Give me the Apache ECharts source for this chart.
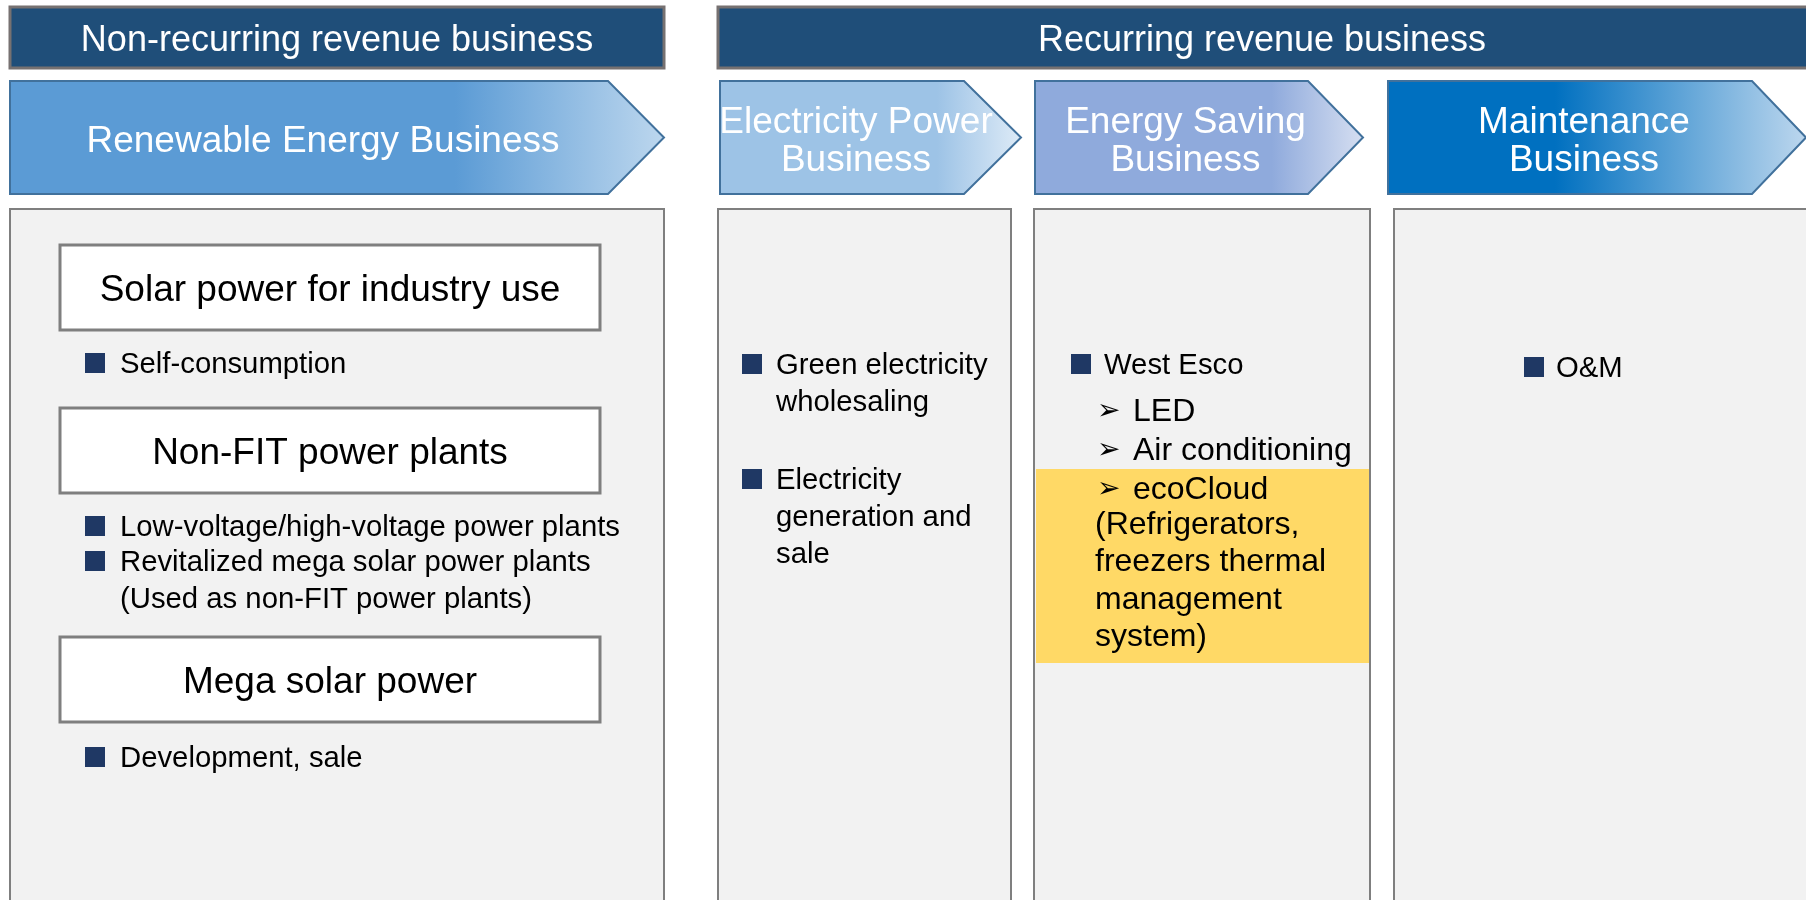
<!DOCTYPE html>
<html>
<head>
<meta charset="utf-8">
<script src="https://cdn.jsdelivr.net/npm/echarts@6/dist/echarts.min.js"></script>
<style>html,body{margin:0;padding:0;background:#fff;}#main{width:1806px;height:900px;}</style>
</head>
<body>
<div id="main"></div>
<script>
// ---- content (data) ----
const headers = ['Non-recurring revenue business', 'Recurring revenue business'];
const segments = ['Renewable Energy Business', 'Electricity Power\nBusiness', 'Energy Saving\nBusiness', 'Maintenance\nBusiness'];
const renewableTopics = ['Solar power for industry use', 'Non-FIT power plants', 'Mega solar power'];
const renewableBullets = [
  ['Self-consumption'],
  ['Low-voltage/high-voltage power plants', 'Revitalized mega solar power plants\n(Used as non-FIT power plants)'],
  ['Development, sale']
];
const electricityBullets = ['Green electricity\nwholesaling', 'Electricity\ngeneration and\nsale'];
const energySavingBullets = ['West Esco'];
const energySavingItems = ['LED', 'Air conditioning', 'ecoCloud'];
const ecoCloudNote = '(Refrigerators,\nfreezers thermal\nmanagement\nsystem)';
const maintenanceBullets = ['O&M'];

// ---- styling / layout ----
const FONT = '"Liberation Sans", Arial, sans-serif';
const DY = 3; // text baseline tweak
const headerFill = '#1F4E79', headerStroke = '#767171';
const chevronStyles = [
  {left: 10, bodyRight: 608, tip: 664, c1: '#5B9BD5', c2: '#BDD7EE', stop: 0.68},
  {left: 720, bodyRight: 964, tip: 1021, c1: '#9DC3E6', c2: '#DEEBF7', stop: 0.72},
  {left: 1035, bodyRight: 1308, tip: 1363, c1: '#8FAADC', c2: '#D6DFF1', stop: 0.72},
  {left: 1388, bodyRight: 1752, tip: 1806, c1: '#0070C0', c2: '#BDD7EE', stop: 0.4}
];
const chevTop = 81, chevBottom = 194;
const panels = [[10, 664], [718, 1011], [1034, 1370], [1394, 1812]];
const panelTop = 209;
const bulletColor = '#1F3864';

const chart = echarts.init(document.getElementById('main'), null, {renderer: 'canvas'});
const g = [];

// header bars
const headerBoxes = [[10, 664], [718, 1812]];
headers.forEach((h, i) => {
  const [x0, x1] = headerBoxes[i];
  g.push({type: 'rect', shape: {x: x0, y: 7, width: x1 - x0, height: 61},
    style: {fill: headerFill, stroke: headerStroke, lineWidth: 3}});
  g.push({type: 'text', x: i === 0 ? (x0 + x1) / 2 : 1262, y: 38 + DY,
    style: {text: h, fill: '#fff', font: '36px ' + FONT, align: 'center', verticalAlign: 'middle'}});
});

// chevrons
segments.forEach((s, i) => {
  const c = chevronStyles[i];
  const mid = (chevTop + chevBottom) / 2;
  g.push({type: 'polygon', shape: {points: [[c.left, chevTop], [c.bodyRight, chevTop], [c.tip, mid], [c.bodyRight, chevBottom], [c.left, chevBottom]]},
    style: {fill: new echarts.graphic.LinearGradient(0, 0, 1, 0, [
      {offset: 0, color: c.c1}, {offset: c.stop, color: c.c1}, {offset: 1, color: c.c2}]),
      stroke: '#41719C', lineWidth: 2}});
  g.push({type: 'text', x: (c.left + c.bodyRight) / 2 + 14, y: mid + 1 + DY,
    style: {text: s, fill: '#fff', font: '37px ' + FONT, lineHeight: 38, align: 'center', verticalAlign: 'middle'}});
});

// panels
panels.forEach(([x0, x1]) => {
  g.push({type: 'rect', shape: {x: x0, y: panelTop, width: x1 - x0, height: 900},
    style: {fill: '#F2F2F2', stroke: '#7F7F7F', lineWidth: 2}});
});

// yellow highlight in Energy Saving panel
g.push({type: 'rect', shape: {x: 1036, y: 469, width: 333, height: 194}, style: {fill: '#FFD966'}});

function bullet(sqX, txtX, cy, text, size, lh) {
  g.push({type: 'rect', shape: {x: sqX, y: cy - 10 + 1, width: 20, height: 20}, style: {fill: bulletColor}});
  g.push({type: 'text', x: txtX, y: cy - lh / 2 + DY,
    style: {text: text, fill: '#000', font: size + 'px ' + FONT, lineHeight: lh, align: 'left', verticalAlign: 'top'}});
}

// renewable panel: topic boxes + bullets
const topicBoxY = [245, 408, 637];
const bulletYs = [[362], [525, 560], [756]];
renewableTopics.forEach((t, i) => {
  g.push({type: 'rect', shape: {x: 60, y: topicBoxY[i], width: 540, height: 85},
    style: {fill: '#fff', stroke: '#7F7F7F', lineWidth: 3}});
  g.push({type: 'text', x: 330, y: topicBoxY[i] + 43 + DY,
    style: {text: t, fill: '#000', font: '37px ' + FONT, align: 'center', verticalAlign: 'middle'}});
  renewableBullets[i].forEach((b, j) => bullet(85, 120, bulletYs[i][j], b, 29.3, 37));
});

// electricity power panel
const elecY = [363, 478];
electricityBullets.forEach((b, i) => bullet(742, 776, elecY[i], b, 29.3, 37));

// energy saving panel
energySavingBullets.forEach(b => bullet(1071, 1104, 363, b, 29.3, 37));
const itemY = [409, 448, 487];
energySavingItems.forEach((it, i) => {
  g.push({type: 'text', x: 1097, y: itemY[i] + DY,
    style: {text: '\u27A2', fill: '#000', font: '28px "DejaVu Sans"', align: 'left', verticalAlign: 'middle'}});
  g.push({type: 'text', x: 1133, y: itemY[i] + DY,
    style: {text: it, fill: '#000', font: '32px ' + FONT, align: 'left', verticalAlign: 'middle'}});
});
g.push({type: 'text', x: 1095, y: 522 - 19 + DY,
  style: {text: ecoCloudNote, fill: '#000', font: '32px ' + FONT, lineHeight: 37.5, align: 'left', verticalAlign: 'top'}});

// maintenance panel
maintenanceBullets.forEach(b => bullet(1524, 1556, 366, b, 29.3, 37));

chart.setOption({animation: false, graphic: {elements: g}});
</script>
</body>
</html>
